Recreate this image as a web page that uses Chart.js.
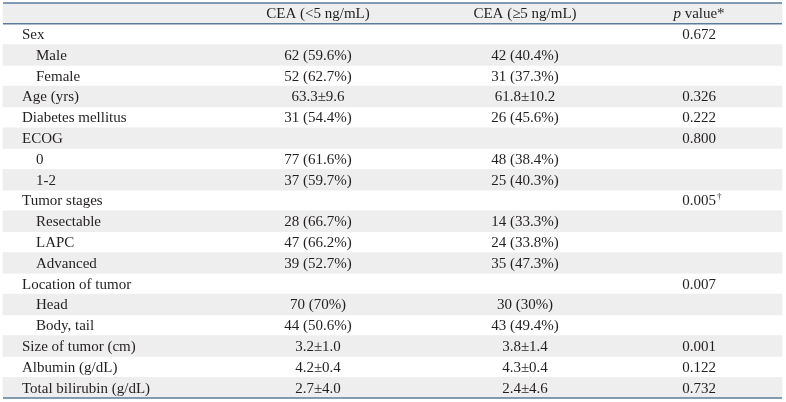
<!DOCTYPE html>
<html>
<head>
<meta charset="utf-8">
<script src="https://cdn.jsdelivr.net/npm/chart.js@4/dist/chart.umd.min.js"></script>
<style>
    html, body { margin: 0; padding: 0; background: #ffffff; }
    #wrap { width: 786px; height: 402px; position: relative; }
</style>
</head>
<body>
<div id="wrap"><canvas id="tableChart"></canvas></div>
<script>
// Table content
const rowLabels = [
    "", "Sex", "Male", "Female", "Age (yrs)", "Diabetes mellitus", "ECOG", "0", "1-2",
    "Tumor stages", "Resectable", "LAPC", "Advanced", "Location of tumor", "Head",
    "Body, tail", "Size of tumor (cm)", "Albumin (g/dL)", "Total bilirubin (g/dL)"
];
const rowIndent = [0, 0, 1, 1, 0, 0, 0, 1, 1, 0, 1, 1, 1, 0, 1, 1, 0, 0, 0];
const columnHeaders = ["", "CEA (<5 ng/mL)", "CEA (\u22655 ng/mL)", "p value*"];
const ceaLow = [
    "", "", "62 (59.6%)", "52 (62.7%)", "63.3\u00b19.6", "31 (54.4%)", "", "77 (61.6%)", "37 (59.7%)",
    "", "28 (66.7%)", "47 (66.2%)", "39 (52.7%)", "", "70 (70%)", "44 (50.6%)",
    "3.2\u00b11.0", "4.2\u00b10.4", "2.7\u00b14.0"
];
const ceaHigh = [
    "", "", "42 (40.4%)", "31 (37.3%)", "61.8\u00b110.2", "26 (45.6%)", "", "48 (38.4%)", "25 (40.3%)",
    "", "14 (33.3%)", "24 (33.8%)", "35 (47.3%)", "", "30 (30%)", "43 (49.4%)",
    "3.8\u00b11.4", "4.3\u00b10.4", "2.4\u00b14.6"
];
const pValues = [
    "", "0.672", "", "", "0.326", "0.222", "0.800", "", "",
    "0.005", "", "", "", "0.007", "", "", "0.001", "0.122", "0.732"
];
const pMarks = ["", "", "", "", "", "", "", "", "", "\u2020", "", "", "", "", "", "", "", "", ""];

// layout
const TABLE_LEFT = 3;
const TABLE_RIGHT = 782;
const COL_CENTERS = [0, 318, 525, 699];
const LABEL_X = [22, 36];
const FONT = "15px 'Liberation Serif', 'Times New Roman', serif";
const TEXT_COLOR = "#231f20";
const RULE_COLOR = "#5a7c9c";
const STRIPE_COLOR = "#eeeeee";

// shaded rows: header and every second body row
const stripes = rowLabels.map((_, i) => (i % 2 === 0 ? [TABLE_LEFT, TABLE_RIGHT] : null));

const tablePlugin = {
    id: "tableText",
    afterDatasetsDraw(chart) {
        const ctx = chart.ctx;
        const x = chart.scales.x;
        const y = chart.scales.y;
        const half = (y.getPixelForValue(1) - y.getPixelForValue(0)) / 2;

        ctx.save();
        ctx.fillStyle = TEXT_COLOR;
        ctx.textBaseline = "middle";
        ctx.font = FONT;

        rowLabels.forEach((label, i) => {
            const cy = y.getPixelForValue(i) + 1;

            ctx.textAlign = "left";
            ctx.fillText(label, x.getPixelForValue(LABEL_X[rowIndent[i]]), cy);

            ctx.textAlign = "center";
            ctx.fillText(ceaLow[i], x.getPixelForValue(COL_CENTERS[1]), cy);
            ctx.fillText(ceaHigh[i], x.getPixelForValue(COL_CENTERS[2]), cy);
            ctx.fillText(pValues[i], x.getPixelForValue(COL_CENTERS[3]), cy);

            if (pMarks[i]) {
                const w = ctx.measureText(pValues[i]).width;
                ctx.save();
                ctx.font = "9px 'Liberation Serif', serif";
                ctx.textAlign = "left";
                ctx.fillText(pMarks[i], x.getPixelForValue(COL_CENTERS[3]) + w / 2 + 1, cy - 5);
                ctx.restore();
            }
        });

        // header row
        const hy = y.getPixelForValue(0) + 1;
        ctx.textAlign = "center";
        ctx.fillText(columnHeaders[1], x.getPixelForValue(COL_CENTERS[1]), hy);
        ctx.fillText(columnHeaders[2], x.getPixelForValue(COL_CENTERS[2]), hy);

        // "p value*" with italic p
        const rest = columnHeaders[3].slice(1);
        ctx.font = "italic " + FONT;
        const pw = ctx.measureText("p").width;
        ctx.font = FONT;
        const rw = ctx.measureText(rest).width;
        const startX = x.getPixelForValue(COL_CENTERS[3]) - (pw + rw) / 2;
        ctx.textAlign = "left";
        ctx.font = "italic " + FONT;
        ctx.fillText("p", startX, hy);
        ctx.font = FONT;
        ctx.fillText(rest, startX + pw, hy);

        // rules
        ctx.strokeStyle = RULE_COLOR;
        ctx.lineWidth = 1.5;
        const left = x.getPixelForValue(TABLE_LEFT);
        const right = x.getPixelForValue(TABLE_RIGHT);
        const lines = [
            y.getPixelForValue(0) - half,
            y.getPixelForValue(0) + half,
            y.getPixelForValue(rowLabels.length - 1) + half
        ];
        lines.forEach(ly => {
            ctx.beginPath();
            ctx.moveTo(left, ly);
            ctx.lineTo(right, ly);
            ctx.stroke();
        });

        ctx.restore();
    }
};

new Chart(document.getElementById("tableChart"), {
    type: "bar",
    data: {
        labels: rowLabels,
        datasets: [{
            data: stripes,
            backgroundColor: STRIPE_COLOR,
            borderWidth: 0,
            barPercentage: 1,
            categoryPercentage: 1
        }]
    },
    options: {
        indexAxis: "y",
        responsive: true,
        maintainAspectRatio: false,
        animation: false,
        layout: { padding: { top: 3, bottom: 4, left: 0, right: 0 } },
        plugins: {
            legend: { display: false },
            tooltip: { enabled: false }
        },
        scales: {
            x: { type: "linear", min: 0, max: 786, display: false },
            y: { type: "category", display: false, offset: true }
        }
    },
    plugins: [tablePlugin]
});
</script>
</body>
</html>
